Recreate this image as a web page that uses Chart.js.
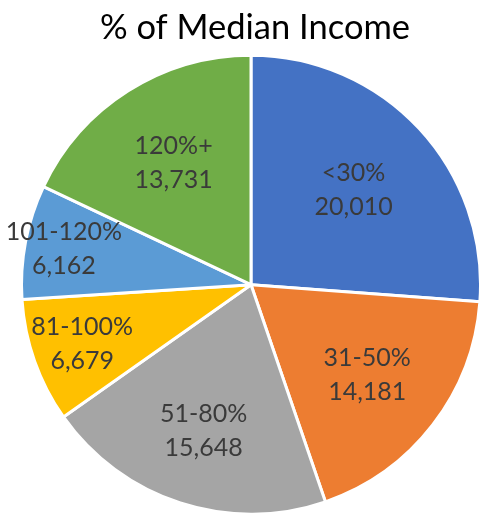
<!DOCTYPE html>
<html>
<head>
<meta charset="utf-8">
<script src="https://cdn.jsdelivr.net/npm/chart.js@4/dist/chart.umd.min.js"></script>
<style>
  html, body { margin: 0; padding: 0; background: #ffffff; }
  canvas { display: block; }
</style>
</head>
<body>
<canvas id="c" width="482" height="518"></canvas>
<script>
const categories = ["<30%", "31-50%", "51-80%", "81-100%", "101-120%", "120%+"];
const households = [20010, 14181, 15648, 6679, 6162, 13731];
const sliceColors = ["#4472C4", "#ED7D31", "#A5A5A5", "#FFC000", "#5B9BD5", "#70AD47"];
const labelRadiusFraction = [0.61, 0.64, 0.67, 0.78, 0.83, 0.63];
const chartTitle = "% of Median Income";

const pieLabels = {
  id: "pieLabels",
  afterDatasetsDraw(chart) {
    const ctx = chart.ctx;
    const meta = chart.getDatasetMeta(0);
    ctx.save();
    ctx.font = "25px Lato";
    ctx.fillStyle = "#3a3a3a";
    ctx.textAlign = "center";
    ctx.textBaseline = "middle";
    meta.data.forEach((arc, i) => {
      const p = arc.getProps(["x", "y", "startAngle", "endAngle", "outerRadius"], true);
      const mid = (p.startAngle + p.endAngle) / 2;
      const r = p.outerRadius * labelRadiusFraction[i];
      const cx = p.x + Math.cos(mid) * r;
      const cy = p.y + Math.sin(mid) * r;
      ctx.fillText(categories[i], cx, cy - 17);
      ctx.fillText(households[i].toLocaleString("en-US"), cx, cy + 17);
    });
    ctx.restore();
  }
};

new Chart(document.getElementById("c"), {
  type: "pie",
  data: {
    labels: categories,
    datasets: [{
      data: households,
      backgroundColor: sliceColors,
      borderColor: "#ffffff",
      borderWidth: 3,
      hoverOffset: 0
    }]
  },
  options: {
    responsive: false,
    animation: false,
    layout: { padding: { left: 20, right: -8, top: 0, bottom: -3 } },
    plugins: {
      legend: { display: false },
      tooltip: { enabled: false },
      title: {
        display: true,
        text: chartTitle,
        color: "#000000",
        font: { family: "Lato", size: 34.5, weight: "normal" },
        padding: { top: 7, bottom: 3 }
      }
    }
  },
  plugins: [pieLabels]
});
</script>
</body>
</html>
